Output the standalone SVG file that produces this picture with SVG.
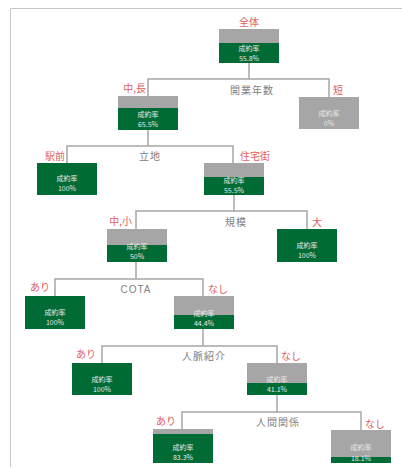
<svg xmlns="http://www.w3.org/2000/svg" width="402" height="468" viewBox="0 0 402 468">
<style>
.g{fill:#a6a6a6}
.n{fill:#006b35}
.t{font-family:"Noto Sans CJK JP","Noto Sans",sans-serif;font-size:7px;fill:#e8e8e8;text-anchor:middle}
.r{font-family:"Noto Sans CJK JP",sans-serif;font-size:10px;fill:#e06060}
.a{font-family:"Noto Sans CJK JP","Liberation Sans",sans-serif;font-size:10px;fill:#7f7f7f;text-anchor:middle;letter-spacing:1px}
.c{fill:none;stroke:#a6a6a6;stroke-width:1.5}
.f{fill:none;stroke:#c8c8c8;stroke-width:1}
</style>
<rect width="402" height="468" fill="#fff"/>
<path class="f" d="M10.5 467V8.5H402"/>
<g id="connectors">
<path class="c" d="M249 63V79M148 96V79H329V97"/>
<path class="c" d="M148 130V146M67 163V146H233V163"/>
<path class="c" d="M234 195V211M136 229V211H307V229"/>
<path class="c" d="M136 262V279M55 296V279H203V296"/>
<path class="c" d="M203 329V346M102 363V346H277V363"/>
<path class="c" d="M277 395V412M182 429V412H361V430"/>
<text class="a" x="252" y="94">開業年数</text>
<text class="a" x="150" y="160">立地</text>
<text class="a" x="236" y="226">規模</text>
<text class="a" x="136" y="293" style="font-family:'Liberation Sans',sans-serif">COTA</text>
<text class="a" x="204" y="360">人脈紹介</text>
<text class="a" x="278" y="426">人間関係</text>
</g>
<g id="n_all">
<rect class="g" x="219" y="29" width="60" height="14"/><rect class="n" x="219" y="43" width="60" height="20"/>
<text class="r" x="249" y="26" text-anchor="middle">全体</text>
<text class="t" x="249" y="51">成約率</text><text class="t" x="249" y="61">55.8%</text>
</g>
<g id="n_long">
<rect class="g" x="118" y="96" width="60" height="12"/><rect class="n" x="118" y="108" width="60" height="22"/>
<text class="r" x="146" y="92" text-anchor="end">中,長</text>
<text class="t" x="148" y="117">成約率</text><text class="t" x="148" y="127">65.5%</text>
</g>
<g id="n_short">
<rect class="g" x="299" y="97" width="60" height="32"/>
<text class="r" x="333" y="94">短</text>
<text class="t" x="329" y="116">成約率</text><text class="t" x="329" y="126">0%</text>
</g>
<g id="n_station">
<rect class="n" x="37" y="163" width="60" height="32"/>
<text class="r" x="65" y="160" text-anchor="end">駅前</text>
<text class="t" x="67" y="181">成約率</text><text class="t" x="67" y="191">100%</text>
</g>
<g id="n_resid">
<rect class="g" x="204" y="163" width="60" height="14"/><rect class="n" x="204" y="177" width="60" height="18"/>
<text class="r" x="240" y="160">住宅街</text>
<text class="t" x="234" y="183">成約率</text><text class="t" x="234" y="193">55.5%</text>
</g>
<g id="n_midsmall">
<rect class="g" x="107" y="229" width="60" height="16"/><rect class="n" x="107" y="245" width="60" height="17"/>
<text class="r" x="132" y="225" text-anchor="end">中,小</text>
<text class="t" x="137" y="249">成約率</text><text class="t" x="137" y="259">50%</text>
</g>
<g id="n_large">
<rect class="n" x="277" y="229" width="60" height="33"/>
<text class="r" x="312" y="226">大</text>
<text class="t" x="307" y="248">成約率</text><text class="t" x="307" y="258">100%</text>
</g>
<g id="n_cota_yes">
<rect class="n" x="25" y="296" width="60" height="33"/>
<text class="r" x="50" y="291" text-anchor="end">あり</text>
<text class="t" x="55" y="315">成約率</text><text class="t" x="55" y="325">100%</text>
</g>
<g id="n_cota_no">
<rect class="g" x="174" y="296" width="60" height="19"/><rect class="n" x="174" y="315" width="60" height="14"/>
<text class="r" x="208" y="293">なし</text>
<text class="t" x="204" y="316">成約率</text><text class="t" x="204" y="326">44.4%</text>
</g>
<g id="n_ref_yes">
<rect class="n" x="72" y="363" width="60" height="32"/>
<text class="r" x="96" y="358" text-anchor="end">あり</text>
<text class="t" x="102" y="382">成約率</text><text class="t" x="102" y="392">100%</text>
</g>
<g id="n_ref_no">
<rect class="g" x="247" y="363" width="60" height="20"/><rect class="n" x="247" y="383" width="60" height="12"/>
<text class="r" x="281" y="360">なし</text>
<text class="t" x="277" y="382">成約率</text><text class="t" x="277" y="392">41.1%</text>
</g>
<g id="n_rel_yes">
<rect class="g" x="153" y="429" width="60" height="5"/><rect class="n" x="153" y="434" width="60" height="29"/>
<text class="r" x="176" y="425" text-anchor="end">あり</text>
<text class="t" x="183" y="450">成約率</text><text class="t" x="183" y="460">83.3%</text>
</g>
<g id="n_rel_no">
<rect class="g" x="331" y="430" width="60" height="27"/><rect class="n" x="331" y="457" width="60" height="6"/>
<text class="r" x="365" y="428">なし</text>
<text class="t" x="361" y="450">成約率</text><text class="t" x="361" y="461">18.1%</text>
</g>
</svg>
